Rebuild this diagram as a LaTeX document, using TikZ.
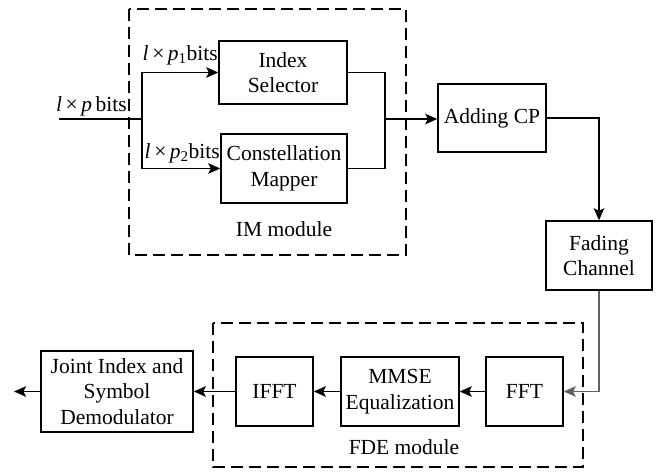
\documentclass[tikz,border=0pt]{standalone}
\usepackage{fontspec}
\setmainfont{Liberation Serif}
\usetikzlibrary{arrows.meta}
\begin{document}
\begin{tikzpicture}[x=1pt,y=-1pt,
  font=\fontsize{21.5}{25.5}\selectfont,
  blk/.style={draw, line width=1.5pt, inner sep=0pt, align=center},
  conn/.style={line width=1.6pt, -{Stealth[length=12pt,width=10.5pt,inset=2.5pt]}},
  wire/.style={line width=1.6pt},
  grayconn/.style={line width=1.6pt, draw=black!62, -{Stealth[length=12pt,width=10.5pt,inset=2.5pt]}},
  modbox/.style={draw, line width=1.5pt, dash pattern=on 12pt off 6pt},
  lbl/.style={inner sep=0pt}]
\useasboundingbox (0,0) rectangle (657,472);

% dashed module frames
\draw[modbox] (129,9) rectangle (406,255);
\draw[modbox] (213,323) rectangle (583,467);
\node[lbl] (imlbl) at (284,229) {IM module};
\node[lbl] (fdelbl) at (404,447) {FDE module};

% transmitter blocks
\node[blk, minimum width=128pt, minimum height=63pt] (idx) at (283,72.5) {Index\\Selector};
\node[blk, minimum width=126pt, minimum height=69pt] (con) at (284,168.5) {Constellation\\Mapper};
\node[blk, minimum width=108pt, minimum height=68pt] (cp) at (492,118) {Adding CP};
\node[blk, minimum width=106pt, minimum height=69pt] (fad) at (599,255.5) {Fading\\Channel};

% receiver blocks
\node[blk, minimum width=77pt, minimum height=69pt] (fft) at (524.5,391.5) {FFT};
\node[blk, minimum width=118pt, minimum height=69pt] (mmse) at (400,391.5) {MMSE\\Equalization};
\node[blk, minimum width=77pt, minimum height=69pt] (ifft) at (274.5,391.5) {IFFT};
\node[blk, minimum width=152pt, minimum height=81pt] (joint) at (117,391.5) {Joint Index and\\Symbol\\Demodulator};

% free ends and junctions
\coordinate (in) at (59,119);
\coordinate (br) at (142,119);
\coordinate (jn) at (385,119);
\coordinate (out) at (14,391.5);

% input split
\draw[wire] (in) -- (br);
\draw[conn] (br) |- (idx.west);
\draw[conn] (br) |- (con.west);
\node[lbl, anchor=south east] (lp) at (127,116) {\textit{l}\,×\,\textit{p}\,bits};
\node[lbl, anchor=south east] (lp1) at (218,65) {\textit{l}\,×\,\textit{p}\textsubscript{1}bits};
\node[lbl, anchor=south east] (lp2) at (220,163) {\textit{l}\,×\,\textit{p}\textsubscript{2}bits};

% merge and transmit chain
\draw[wire] (idx.east) -| (jn);
\draw[wire] (con.east) -| (jn);
\draw[conn] (jn) -- (cp.west |- jn);
\draw[conn] (cp.east) -| (fad.north);
\draw[grayconn] (fad.south) |- (fft.east);

% receive chain
\draw[conn] (fft.west) -- (mmse.east);
\draw[conn] (mmse.west) -- (ifft.east);
\draw[conn] (ifft.west) -- (joint.east);
\draw[conn] (joint.west) -- (out);
\end{tikzpicture}
\end{document}
